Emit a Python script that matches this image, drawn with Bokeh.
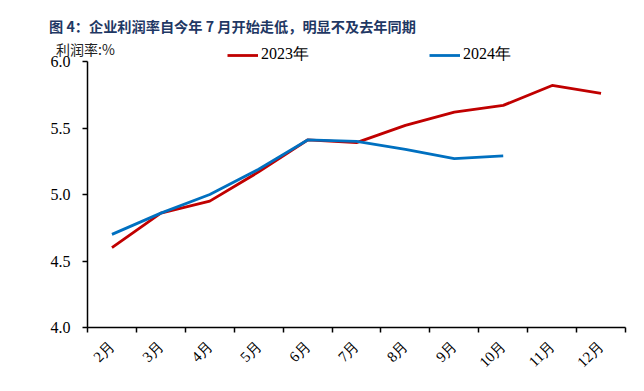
from bokeh.plotting import figure
from bokeh.models import Range1d, FixedTicker, Label, Legend, LegendItem, ColumnDataSource, NumeralTickFormatter
from bokeh.embed import file_html
from bokeh.resources import INLINE

# ---- data ----
months = ["2月", "3月", "4月", "5月", "6月", "7月", "8月", "9月", "10月", "11月", "12月"]
y2023 = [4.60, 4.86, 4.95, 5.17, 5.41, 5.39, 5.52, 5.62, 5.67, 5.82, 5.76]
y2024 = [4.70, 4.86, 5.00, 5.19, 5.41, 5.40, 5.34, 5.27, 5.29]
y_ticks = [4.0, 4.5, 5.0, 5.5, 6.0]
title_text = "图 4：企业利润率自今年 7 月开始走低，明显不及去年同期"
ylabel_text = "利润率:%"

centers = [i + 0.5 for i in range(len(months))]
bounds = [float(i) for i in range(len(months) + 1)]

# ---- layout (pixels); the frame covers the whole canvas, axes sit at fixed data locations ----
W, H = 640, 388
axis_left_px, axis_right_px = 87, 625
axis_top_px, axis_bottom_px = 61, 327
px_per_x = (axis_right_px - axis_left_px) / len(months)
px_per_y = (axis_bottom_px - axis_top_px) / (y_ticks[-1] - y_ticks[0])
x_start = -axis_left_px / px_per_x
x_end = len(months) + (W - axis_right_px) / px_per_x
y_start = y_ticks[0] - (H - axis_bottom_px) / px_per_y
y_end = y_ticks[-1] + axis_top_px / px_per_y

p = figure(width=W, height=H, output_backend="svg", toolbar_location=None,
           x_range=Range1d(x_start, x_end), y_range=Range1d(y_start, y_end),
           min_border_left=0, min_border_top=0, min_border_bottom=0, min_border_right=0)
p.outline_line_color = None
p.xgrid.visible = False
p.ygrid.visible = False
p.background_fill_color = "white"
p.border_fill_color = "white"

src23 = ColumnDataSource(dict(x=centers[:len(y2023)], y=y2023))
src24 = ColumnDataSource(dict(x=centers[:len(y2024)], y=y2024))
r23 = p.line("x", "y", source=src23, line_color="#C00000", line_width=2.8)
r24 = p.line("x", "y", source=src24, line_color="#0070C0", line_width=2.8)

# x axis at y = 4.0
xa = p.xaxis[0]
xa.fixed_location = y_ticks[0]
xa.ticker = FixedTicker(ticks=centers, minor_ticks=bounds)
xa.bounds = (0, len(months))
xa.major_label_overrides = {c: m for c, m in zip(centers, months)}
xa.major_tick_line_color = None
xa.minor_tick_line_color = "black"
xa.minor_tick_line_width = 1.5
xa.minor_tick_out = 5
xa.minor_tick_in = 0
xa.axis_line_color = "black"
xa.axis_line_width = 1.5
xa.major_label_orientation = 0.785398
xa.major_label_text_font = "Liberation Serif"
xa.major_label_text_font_size = "15px"
xa.major_label_text_color = "black"
xa.major_label_standoff = 10

# y axis at x = 0 (start of the first month)
ya = p.yaxis[0]
ya.fixed_location = 0
ya.bounds = (y_ticks[0], y_ticks[-1])
ya.ticker = FixedTicker(ticks=y_ticks)
ya.formatter = NumeralTickFormatter(format="0.0")
ya.axis_line_color = "black"
ya.axis_line_width = 1.5
ya.major_tick_line_color = "black"
ya.major_tick_line_width = 1.5
ya.major_tick_out = 5
ya.major_tick_in = 0
ya.minor_tick_line_color = None
ya.major_label_text_font = "Liberation Serif"
ya.major_label_text_font_size = "16px"
ya.major_label_text_color = "black"
ya.major_label_standoff = 12

# title and y label (screen units, relative to the canvas bottom-left)
p.add_layout(Label(x=48.5, y=H - 25.5, x_units="screen", y_units="screen",
                   text=title_text,
                   text_font="Noto Sans CJK SC", text_font_style="bold", text_font_size="14.2px",
                   text_color="#1F3864", text_baseline="middle", text_align="left"))
p.add_layout(Label(x=55.5, y=H - 48, x_units="screen", y_units="screen",
                   text=ylabel_text,
                   text_font="Noto Sans CJK SC", text_font_size="14px",
                   text_color="#222222", text_baseline="middle", text_align="left"))

legend = Legend(items=[LegendItem(label="2023年", renderers=[r23]),
                       LegendItem(label="2024年", renderers=[r24])],
                location=(227, H - 57.3 - 8), orientation="horizontal",
                glyph_width=31, glyph_height=16, label_height=16, label_standoff=3,
                spacing=120, padding=0, margin=0,
                label_text_font="Liberation Serif", label_text_font_size="16px",
                label_text_color="black",
                background_fill_alpha=0, border_line_color=None)
p.add_layout(legend, "center")

open("out.html", "w").write(file_html(p, INLINE))
